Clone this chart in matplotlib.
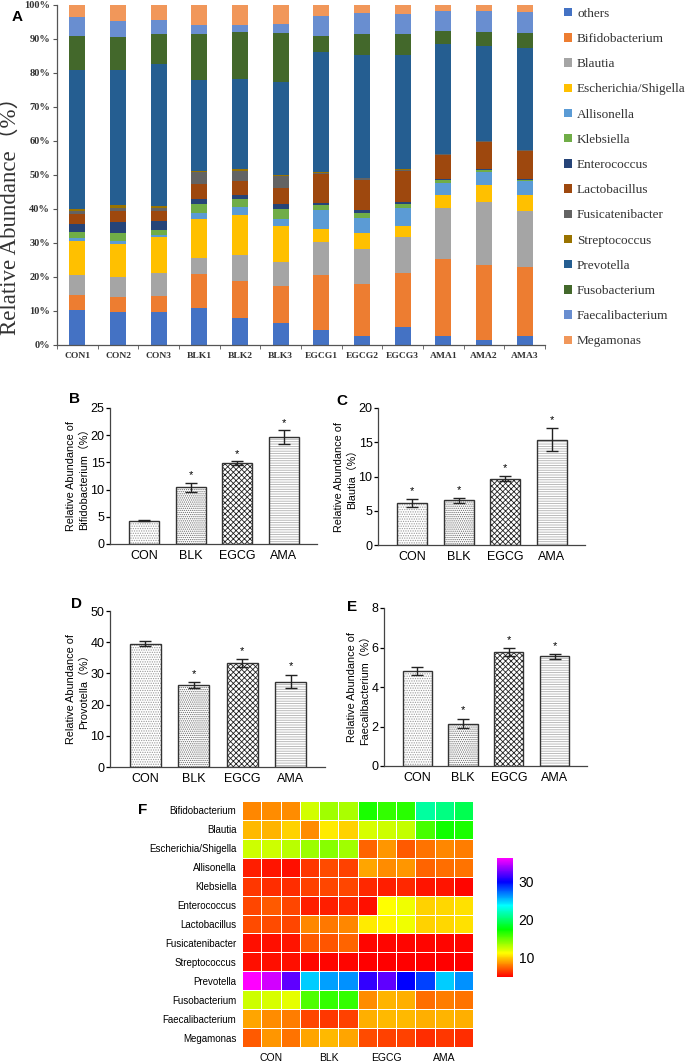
"""
Gut microbiota composition: stacked relative abundance (A), key genera (B-E)
and heatmap of genus abundance per sample (F).
"""

import numpy as np
import matplotlib
matplotlib.use('Agg')
import matplotlib.pyplot as plt
import matplotlib.patches as mpatches
from matplotlib.colors import LinearSegmentedColormap

# ---------------------------------------------------------------------------
# Data
# ---------------------------------------------------------------------------
samples = ['CON1', 'CON2', 'CON3', 'BLK1', 'BLK2', 'BLK3',
           'EGCG1', 'EGCG2', 'EGCG3', 'AMA1', 'AMA2', 'AMA3']

others = [10.4, 9.6, 9.6, 10.8, 7.8, 6.6, 4.4, 2.6, 5.4, 2.6, 1.5, 2.6]
bifidobacterium = [4.3, 4.6, 4.8, 10.0, 11.1, 10.8, 16.2, 15.4, 15.7, 22.7, 22.1, 20.2]
blautia = [6.0, 5.8, 6.9, 4.7, 7.5, 7.0, 9.7, 10.1, 10.6, 14.9, 18.6, 16.7]
escherichia = [9.9, 9.6, 10.5, 11.6, 11.7, 10.6, 3.7, 4.7, 3.3, 4.0, 4.8, 4.7]
allisonella = [0.8, 1.0, 0.5, 1.8, 2.5, 2.2, 5.7, 4.7, 5.2, 3.4, 3.8, 4.0]
klebsiella = [1.9, 2.4, 1.5, 2.6, 2.4, 2.9, 1.5, 1.4, 1.4, 0.8, 0.8, 0.4]
enterococcus = [2.2, 3.2, 2.7, 1.3, 1.2, 1.3, 0.7, 0.7, 0.6, 0.3, 0.2, 0.3]
lactobacillus = [3.1, 3.2, 2.9, 4.7, 3.9, 4.7, 8.3, 8.8, 8.9, 7.2, 7.8, 8.1]
fusicatenibacter = [0.8, 0.8, 0.8, 3.3, 3.1, 3.6, 0.5, 0.6, 0.5, 0.3, 0.3, 0.3]
streptococcus = [0.5, 0.9, 0.7, 0.4, 0.5, 0.4, 0.1, 0.2, 0.2, 0.1, 0.2, 0.2]
prevotella = [41.0, 39.8, 41.8, 26.6, 26.5, 27.2, 35.5, 36.0, 33.6, 32.3, 27.9, 30.0]
fusobacterium = [10.1, 9.8, 8.8, 13.8, 14.0, 14.6, 4.7, 6.2, 6.0, 3.8, 4.1, 4.4]
faecalibacterium = [5.6, 4.5, 4.2, 2.4, 1.9, 2.5, 5.9, 6.2, 6.1, 5.8, 6.1, 6.1]
megamonas = [3.4, 4.8, 4.3, 6.0, 5.9, 5.6, 3.1, 2.4, 2.5, 1.8, 1.8, 2.0]

taxa_names = ['others', 'Bifidobacterium', 'Blautia', 'Escherichia/Shigella',
              'Allisonella', 'Klebsiella', 'Enterococcus', 'Lactobacillus',
              'Fusicatenibacter', 'Streptococcus', 'Prevotella',
              'Fusobacterium', 'Faecalibacterium', 'Megamonas']
taxa_values = [others, bifidobacterium, blautia, escherichia, allisonella,
               klebsiella, enterococcus, lactobacillus, fusicatenibacter,
               streptococcus, prevotella, fusobacterium, faecalibacterium,
               megamonas]
taxa_colors = ['#4472C4', '#ED7D31', '#A5A5A5', '#FFC000', '#5B9BD5',
               '#70AD47', '#264478', '#9E480E', '#636363', '#997300',
               '#255E91', '#43682B', '#698ED0', '#F1975A']

groups = ['CON', 'BLK', 'EGCG', 'AMA']

bifido_mean = [4.3, 10.4, 14.9, 19.6]
bifido_err = [0.15, 0.9, 0.3, 1.3]
bifido_star = [False, True, True, True]

blautia_mean = [6.1, 6.5, 9.7, 15.4]
blautia_err = [0.6, 0.35, 0.35, 1.7]
blautia_star = [True, True, True, True]

prevotella_mean = [39.5, 26.2, 33.4, 27.4]
prevotella_err = [0.8, 1.0, 1.3, 2.2]
prevotella_star = [False, True, True, True]

faecali_mean = [4.8, 2.15, 5.75, 5.55]
faecali_err = [0.2, 0.25, 0.2, 0.12]
faecali_star = [False, True, True, True]

heat_taxa = ['Bifidobacterium', 'Blautia', 'Escherichia/Shigella',
             'Allisonella', 'Klebsiella', 'Enterococcus', 'Lactobacillus',
             'Fusicatenibacter', 'Streptococcus', 'Prevotella',
             'Fusobacterium', 'Faecalibacterium', 'Megamonas']
# columns: CON1-3, BLK1-3, EGCG1-3, AMA1-3
heat_values = [
    [8.3, 8.4, 8.5, 12.3, 13.5, 13.3, 16.8, 16.2, 16.4, 21.3, 20.5, 19.3],
    [9.5, 9.4, 10.1, 8.5, 10.8, 10.1, 12.2, 12.5, 12.7, 15.7, 17.0, 16.8],
    [12.4, 12.5, 12.9, 13.7, 14.1, 13.5, 7.5, 8.7, 7.3, 7.9, 8.3, 8.1],
    [5.8, 5.6, 5.4, 6.4, 6.9, 6.6, 9.1, 8.4, 8.7, 7.5, 7.7, 7.9],
    [6.4, 6.2, 6.2, 6.6, 6.7, 6.7, 6.0, 5.8, 6.0, 5.6, 5.6, 5.2],
    [6.7, 7.3, 6.7, 5.8, 5.8, 6.0, 5.4, 11.2, 11.6, 10.1, 10.3, 10.5],
    [6.9, 6.9, 6.7, 8.3, 8.0, 8.3, 10.8, 11.0, 11.6, 10.1, 10.3, 10.5],
    [5.4, 5.4, 5.6, 7.3, 7.1, 7.5, 5.2, 5.2, 5.2, 5.2, 5.2, 5.2],
    [5.4, 5.4, 5.4, 5.2, 5.2, 5.2, 5.1, 5.1, 5.1, 5.1, 5.1, 5.1],
    [36.0, 34.9, 32.1, 24.8, 25.9, 26.3, 31.0, 32.1, 29.8, 28.2, 24.8, 26.3],
    [12.5, 12.2, 11.9, 15.5, 16.2, 16.2, 8.4, 9.4, 9.3, 7.7, 8.1, 7.9],
    [9.1, 8.4, 8.1, 6.7, 6.4, 6.6, 9.3, 9.5, 9.6, 9.3, 9.4, 9.3],
    [7.3, 8.7, 7.9, 9.1, 9.5, 9.1, 6.9, 6.6, 6.6, 6.2, 6.4, 6.2],
]

# ---------------------------------------------------------------------------
# Layout helpers (pixel boxes on a 687x1062 canvas)
# ---------------------------------------------------------------------------
W, H = 687, 1062
fig = plt.figure(figsize=(W / 100, H / 100), dpi=100)


def box(left, top, right, bottom):
    return [left / W, 1 - bottom / H, (right - left) / W, (bottom - top) / H]


SERIF = ['Liberation Serif', 'Noto Sans CJK SC']
SANS = ['Liberation Sans', 'Noto Sans CJK SC']

# ---------------------------------------------------------------------------
# Panel A: stacked bars
# ---------------------------------------------------------------------------
axA = fig.add_axes(box(57, 5, 545, 345))
x = np.arange(len(samples))
bottom = np.zeros(len(samples))
handles = []
for name, vals, col in zip(taxa_names, taxa_values, taxa_colors):
    axA.bar(x, vals, width=0.4, bottom=bottom, color=col, edgecolor='none')
    bottom += np.array(vals)
    handles.append(mpatches.Patch(facecolor=col, edgecolor='none', label=name))

axA.set_xlim(-0.5, len(samples) - 0.5)
axA.set_ylim(0, 100)
axA.set_yticks(np.arange(0, 101, 10))
axA.set_yticklabels([f'{v}%' for v in range(0, 101, 10)],
                    fontfamily=SERIF, fontweight='bold', fontsize=7.5,
                    color='#333333')
axA.set_xticks(x)
axA.set_xticklabels(samples, fontfamily=SERIF, fontweight='bold',
                    fontsize=6.8, color='#333333')
axA.set_xticks(np.arange(-0.5, len(samples)), minor=True)
axA.tick_params(axis='x', which='major', length=0, pad=5)
axA.tick_params(axis='x', which='minor', length=3, direction='out',
                color='#555555')
axA.tick_params(axis='y', length=3, color='#555555', pad=2)
for s in ['top', 'right']:
    axA.spines[s].set_visible(False)
for s in ['left', 'bottom']:
    axA.spines[s].set_color('#555555')
    axA.spines[s].set_linewidth(0.9)
fig.text(10 / W, 1 - 210 / H, 'Relative Abundance（%）', rotation=90,
         fontfamily=SERIF, fontsize=16.5, color='#333333',
         ha='center', va='center')
fig.text(12 / W, 1 - 17 / H, 'A', fontsize=11, fontweight='bold',
         fontfamily=SANS, va='center')

fig.legend(handles=handles, loc='upper left',
           bbox_to_anchor=(552 / W, 1 + 4 / H), frameon=False,
           prop={'family': SERIF, 'size': 9.5}, labelspacing=1.0,
           handlelength=0.6, handleheight=0.6, handletextpad=0.4,
           labelcolor='#333333')

# ---------------------------------------------------------------------------
# Panels B-E: group means
# ---------------------------------------------------------------------------
plt.rcParams['hatch.linewidth'] = 0.6
hatches = ['.......', '........', 'xxxxxx', '-------']
hatch_cols = ['#9a9a9a', '#6a6a6a', '#222222', '#b0b0b0']


def group_panel(rect, means, errs, stars, ymax, ystep, ylabel, letter,
                letter_xy):
    ax = fig.add_axes(box(*rect))
    xg = np.arange(len(groups))
    for i in range(len(groups)):
        ax.bar(xg[i], means[i], width=0.64, color='white',
               edgecolor=hatch_cols[i], hatch=hatches[i], linewidth=0,
               zorder=2)
        ax.bar(xg[i], means[i], width=0.64, color='none',
               edgecolor='#333333', linewidth=1.0, zorder=3)
    ax.errorbar(xg, means, yerr=errs, fmt='none', ecolor='#222222',
                elinewidth=1.0, capsize=4, capthick=1.0, zorder=4)
    for i in range(len(groups)):
        if stars[i]:
            ax.text(xg[i], means[i] + errs[i] + ymax * 0.02, '*',
                    ha='center', va='bottom', fontsize=8,
                    fontfamily=SANS)
    ax.set_xlim(-0.73, 3.71)
    ax.set_ylim(0, ymax)
    ax.set_yticks(np.arange(0, ymax + 0.01, ystep))
    ax.set_xticks(xg)
    ax.set_xticklabels(groups, fontfamily=SANS, fontsize=9)
    ax.tick_params(axis='x', length=0, pad=4)
    ax.tick_params(axis='y', length=3, width=0.9, labelsize=9, pad=1)
    for lab in ax.get_yticklabels():
        lab.set_fontfamily(SANS)
    for s in ['top', 'right']:
        ax.spines[s].set_visible(False)
    for s in ['left', 'bottom']:
        ax.spines[s].set_color('#444444')
        ax.spines[s].set_linewidth(0.9)
    ax.set_ylabel(ylabel, fontfamily=SANS, fontsize=7.8, linespacing=1.3,
                  labelpad=1)
    fig.text(letter_xy[0] / W, 1 - letter_xy[1] / H, letter, fontsize=11,
             fontweight='bold', fontfamily=SANS, va='center', ha='center')
    return ax


group_panel((110, 408, 317, 544), bifido_mean, bifido_err, bifido_star,
            25, 5, 'Relative Abundance of\nBifidobacterium（%）', 'B',
            (74, 399))
group_panel((378, 408, 585, 545), blautia_mean, blautia_err, blautia_star,
            20, 5, 'Relative Abundance of\nBlautia（%）', 'C', (342, 401))
group_panel((110, 611, 325, 767), prevotella_mean, prevotella_err,
            prevotella_star, 50, 10, 'Relative Abundance of\nProvotella（%）',
            'D', (76, 604))
group_panel((384, 608, 587, 766), faecali_mean, faecali_err, faecali_star,
            8, 2, 'Relative Abundance of\nFaecalibacterium（%）', 'E',
            (352, 607))

# ---------------------------------------------------------------------------
# Panel F: heatmap
# ---------------------------------------------------------------------------
cmap = LinearSegmentedColormap.from_list(
    'spectrum', ['#FF0000', '#FFFF00', '#00FF00', '#00FFFF', '#0000FF',
                 '#FF00FF'])
axF = fig.add_axes(box(242, 801, 473, 1047))
mesh = axF.pcolormesh(np.array(heat_values), cmap=cmap, vmin=5, vmax=36,
                      edgecolors='#ffffff', linewidth=0.4)
axF.set_xlim(0, 12)
axF.set_ylim(len(heat_taxa), 0)
axF.set_yticks(np.arange(len(heat_taxa)) + 0.5)
axF.set_yticklabels(heat_taxa, fontfamily=SANS, fontsize=7)
axF.set_xticks([1.5, 4.5, 7.5, 10.5])
axF.set_xticklabels(groups, fontfamily=SANS, fontsize=7.5)
axF.tick_params(length=0, pad=4)
for s in axF.spines.values():
    s.set_visible(False)
fig.text(143 / W, 1 - 810 / H, 'F', fontsize=11, fontweight='bold',
         fontfamily=SANS, va='center', ha='center')

cax = fig.add_axes(box(497, 858, 513, 977))
cb = fig.colorbar(mesh, cax=cax, ticks=[10, 20, 30])
cb.outline.set_visible(False)
cax.tick_params(length=0, labelsize=10, pad=4)
for lab in cax.get_yticklabels():
    lab.set_fontfamily(SANS)

fig.savefig('out.png', dpi=100, facecolor='white')
plt.close(fig)
